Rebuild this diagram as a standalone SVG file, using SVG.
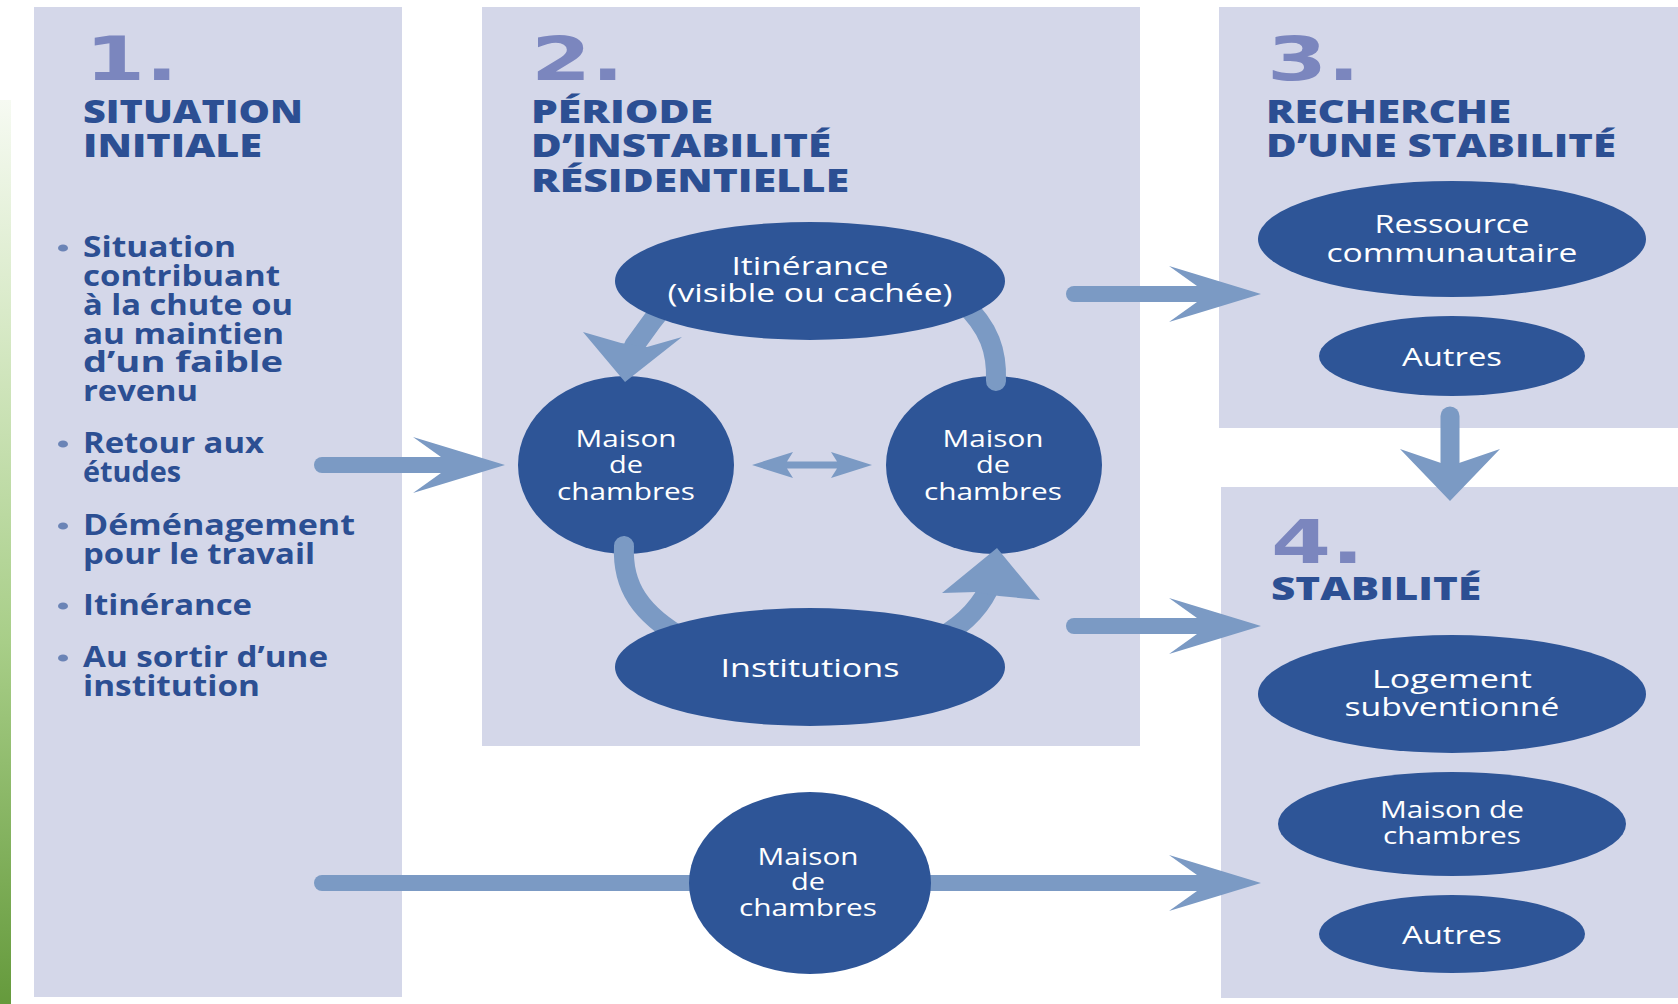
<svg xmlns="http://www.w3.org/2000/svg" xmlns:xlink="http://www.w3.org/1999/xlink" width="1678" height="1004" viewBox="0 0 1678 1004">
  <defs>
    <linearGradient id="strip" x1="0" y1="0" x2="0" y2="1">
      <stop offset="0" stop-color="#f6faf2"/>
      <stop offset="0.25" stop-color="#d7e9c6"/>
      <stop offset="0.6" stop-color="#a8ce88"/>
      <stop offset="1" stop-color="#659a3c"/>
    </linearGradient>
    <path id="headR" d="M0,0 L-92,-28 L-64,-8 L-64,8 L-92,28 Z"/>
    <path id="headD" d="M0,0 L-50,-52 L-9,-38 L9,-38 L50,-52 Z"/>
  </defs>
  <style>
    .panel { fill: #d4d7e9; }
    .node { fill: #2e5597; }
    .num { font-family: "DejaVu Sans", "Liberation Sans", sans-serif; font-weight: bold; font-size: 60px; fill: #7b86be; }
    .head { font-family: "Open Sans", "Liberation Sans", sans-serif; font-weight: 800; font-size: 32px; fill: #2c4f93; }
    .bul { font-family: "Open Sans", "Liberation Sans", sans-serif; font-weight: 700; font-size: 28px; fill: #2c4f93; }
    .dot { fill: #6b84b6; }
    .nt { font-family: "Open Sans", "Liberation Sans", sans-serif; font-weight: 500; font-size: 26px; fill: #ffffff; text-anchor: middle; }
    .ns { font-family: "Open Sans", "Liberation Sans", sans-serif; font-weight: 500; font-size: 23px; fill: #ffffff; text-anchor: middle; }
    .arr { fill: #7b9ac4; }
    .shaft { fill: none; stroke: #7b9ac4; stroke-linecap: round; }
    .cshaft { fill: none; stroke: #7b9ac4; stroke-width: 20; stroke-linecap: round; }
  </style>

  <rect x="0" y="0" width="1678" height="1004" fill="#ffffff"/>
  <rect x="0" y="100" width="11" height="904" fill="url(#strip)"/>

  <!-- panels -->
  <g id="panel1">
    <rect class="panel" x="34" y="7" width="368" height="990"/>
    <text class="num" x="85" y="80" textLength="93" lengthAdjust="spacingAndGlyphs">1.</text>
    <text class="head" x="83" y="123" textLength="220" lengthAdjust="spacingAndGlyphs">SITUATION</text>
    <text class="head" x="83" y="157" textLength="179" lengthAdjust="spacingAndGlyphs">INITIALE</text>
    <ellipse class="dot" cx="63" cy="248" rx="5" ry="3.6"/>
    <text class="bul" x="83" y="257" textLength="153" lengthAdjust="spacingAndGlyphs">Situation</text>
    <text class="bul" x="83" y="286" textLength="197" lengthAdjust="spacingAndGlyphs">contribuant</text>
    <text class="bul" x="83" y="315" textLength="210" lengthAdjust="spacingAndGlyphs">à la chute ou</text>
    <text class="bul" x="83" y="344" textLength="201" lengthAdjust="spacingAndGlyphs">au maintien</text>
    <text class="bul" x="83" y="372" textLength="200" lengthAdjust="spacingAndGlyphs">d’un faible</text>
    <text class="bul" x="83" y="401" textLength="115" lengthAdjust="spacingAndGlyphs">revenu</text>
    <ellipse class="dot" cx="63" cy="444" rx="5" ry="3.6"/>
    <text class="bul" x="83" y="453" textLength="181" lengthAdjust="spacingAndGlyphs">Retour aux</text>
    <text class="bul" x="83" y="482" textLength="98" lengthAdjust="spacingAndGlyphs">études</text>
    <ellipse class="dot" cx="63" cy="526" rx="5" ry="3.6"/>
    <text class="bul" x="83" y="535" textLength="272" lengthAdjust="spacingAndGlyphs">Déménagement</text>
    <text class="bul" x="83" y="564" textLength="232" lengthAdjust="spacingAndGlyphs">pour le travail</text>
    <ellipse class="dot" cx="63" cy="606" rx="5" ry="3.6"/>
    <text class="bul" x="83" y="615" textLength="169" lengthAdjust="spacingAndGlyphs">Itinérance</text>
    <ellipse class="dot" cx="63" cy="658" rx="5" ry="3.6"/>
    <text class="bul" x="83" y="667" textLength="245" lengthAdjust="spacingAndGlyphs">Au sortir d’une</text>
    <text class="bul" x="83" y="696" textLength="177" lengthAdjust="spacingAndGlyphs">institution</text>
  </g>

  <g id="panel2">
    <rect class="panel" x="482" y="7" width="658" height="739"/>
    <text class="num" x="531" y="80" textLength="93" lengthAdjust="spacingAndGlyphs">2.</text>
    <text class="head" x="531" y="123" textLength="182" lengthAdjust="spacingAndGlyphs">PÉRIODE</text>
    <text class="head" x="531" y="157" textLength="300" lengthAdjust="spacingAndGlyphs">D’INSTABILITÉ</text>
    <text class="head" x="531" y="192" textLength="318" lengthAdjust="spacingAndGlyphs">RÉSIDENTIELLE</text>
  </g>

  <g id="panel3">
    <rect class="panel" x="1219" y="7" width="459" height="421"/>
    <text class="num" x="1267" y="80" textLength="93" lengthAdjust="spacingAndGlyphs">3.</text>
    <text class="head" x="1266" y="123" textLength="245" lengthAdjust="spacingAndGlyphs">RECHERCHE</text>
    <text class="head" x="1266" y="157" textLength="350" lengthAdjust="spacingAndGlyphs">D’UNE STABILITÉ</text>
  </g>

  <g id="panel4">
    <rect class="panel" x="1221" y="487" width="457" height="511"/>
    <text class="num" x="1271" y="563" textLength="93" lengthAdjust="spacingAndGlyphs">4.</text>
    <text class="head" x="1271" y="600" textLength="210" lengthAdjust="spacingAndGlyphs">STABILITÉ</text>
  </g>

  <!-- circle nodes below connectors -->
  <g id="mdc-left">
    <ellipse class="node" cx="626" cy="465" rx="108" ry="89"/>
    <text class="ns" x="626" y="447" textLength="101" lengthAdjust="spacingAndGlyphs">Maison</text>
    <text class="ns" x="626" y="473" textLength="34" lengthAdjust="spacingAndGlyphs">de</text>
    <text class="ns" x="626" y="500" textLength="138" lengthAdjust="spacingAndGlyphs">chambres</text>
  </g>
  <g id="mdc-right">
    <ellipse class="node" cx="994" cy="465" rx="108" ry="89"/>
    <text class="ns" x="993" y="447" textLength="101" lengthAdjust="spacingAndGlyphs">Maison</text>
    <text class="ns" x="993" y="473" textLength="34" lengthAdjust="spacingAndGlyphs">de</text>
    <text class="ns" x="993" y="500" textLength="138" lengthAdjust="spacingAndGlyphs">chambres</text>
  </g>

  <!-- connectors -->
  <g id="connectors">
    <!-- 1 -> 2 -->
    <line class="shaft" stroke-width="16" x1="322" y1="465" x2="445" y2="465"/>
    <use xlink:href="#headR" class="arr" transform="translate(505,465)"/>
    <!-- 2 -> 3 -->
    <line class="shaft" stroke-width="16" x1="1074" y1="294" x2="1200" y2="294"/>
    <use xlink:href="#headR" class="arr" transform="translate(1261,294)"/>
    <!-- 2 -> 4 -->
    <line class="shaft" stroke-width="16" x1="1074" y1="626" x2="1200" y2="626"/>
    <use xlink:href="#headR" class="arr" transform="translate(1261,626)"/>
    <!-- 1 -> 4 (through bottom circle) -->
    <line class="shaft" stroke-width="16" x1="322" y1="883" x2="1200" y2="883"/>
    <use xlink:href="#headR" class="arr" transform="translate(1261,883)"/>
    <!-- 3 -> 4 -->
    <line class="shaft" stroke-width="19" x1="1450" y1="416" x2="1450" y2="466"/>
    <use xlink:href="#headD" class="arr" transform="translate(1450,501)"/>
    <!-- double arrow between rooming houses -->
    <path class="arr" d="M752 465 L793 452 L787 461.5 L837 461.5 L831 452 L872 465 L831 478 L837 468.5 L787 468.5 L793 478 Z"/>
    <!-- cycle curves -->
    <path class="cshaft" stroke-linecap="butt" d="M672 296 Q652 320 634 346"/>
    <path class="arr" d="M625 382 L583 332 L621 343 L647 347 L682 337 Z"/>
    <path class="cshaft" d="M996 381 C997 352 990 328 962 302"/>
    <path class="cshaft" d="M624 546 C622 586 640 614 686 640"/>
    <path class="cshaft" stroke-linecap="butt" d="M932 642 Q972 622 988 590"/>
    <path class="arr" d="M997 548 L942 593 L976 592 L999 596 L1040 600 Z"/>
  </g>

  <!-- ellipse nodes -->
  <g id="itinerance">
    <ellipse class="node" cx="810" cy="281" rx="195" ry="59"/>
    <text class="nt" x="810" y="275" textLength="157" lengthAdjust="spacingAndGlyphs">Itinérance</text>
    <text class="nt" x="810" y="302" textLength="285" lengthAdjust="spacingAndGlyphs">(visible ou cachée)</text>
  </g>
  <g id="institutions">
    <ellipse class="node" cx="810" cy="667" rx="195" ry="59"/>
    <text class="nt" x="810" y="677" textLength="179" lengthAdjust="spacingAndGlyphs">Institutions</text>
  </g>
  <g id="mdc-bottom">
    <ellipse class="node" cx="810" cy="883" rx="121" ry="91"/>
    <text class="ns" x="808" y="865" textLength="101" lengthAdjust="spacingAndGlyphs">Maison</text>
    <text class="ns" x="808" y="890" textLength="34" lengthAdjust="spacingAndGlyphs">de</text>
    <text class="ns" x="808" y="916" textLength="138" lengthAdjust="spacingAndGlyphs">chambres</text>
  </g>
  <g id="ressource">
    <ellipse class="node" cx="1452" cy="239" rx="194" ry="58"/>
    <text class="nt" x="1452" y="233" textLength="155" lengthAdjust="spacingAndGlyphs">Ressource</text>
    <text class="nt" x="1452" y="262" textLength="251" lengthAdjust="spacingAndGlyphs">communautaire</text>
  </g>
  <g id="autres3">
    <ellipse class="node" cx="1452" cy="356" rx="133" ry="40"/>
    <text class="nt" x="1452" y="366" textLength="100" lengthAdjust="spacingAndGlyphs">Autres</text>
  </g>
  <g id="logement">
    <ellipse class="node" cx="1452" cy="694" rx="194" ry="59"/>
    <text class="nt" x="1452" y="688" textLength="160" lengthAdjust="spacingAndGlyphs">Logement</text>
    <text class="nt" x="1452" y="716" textLength="215" lengthAdjust="spacingAndGlyphs">subventionné</text>
  </g>
  <g id="mdc4">
    <ellipse class="node" cx="1452" cy="824" rx="174" ry="52"/>
    <text class="ns" x="1452" y="818" textLength="144" lengthAdjust="spacingAndGlyphs">Maison de</text>
    <text class="ns" x="1452" y="844" textLength="138" lengthAdjust="spacingAndGlyphs">chambres</text>
  </g>
  <g id="autres4">
    <ellipse class="node" cx="1452" cy="934" rx="133" ry="39"/>
    <text class="nt" x="1452" y="944" textLength="100" lengthAdjust="spacingAndGlyphs">Autres</text>
  </g>
</svg>
